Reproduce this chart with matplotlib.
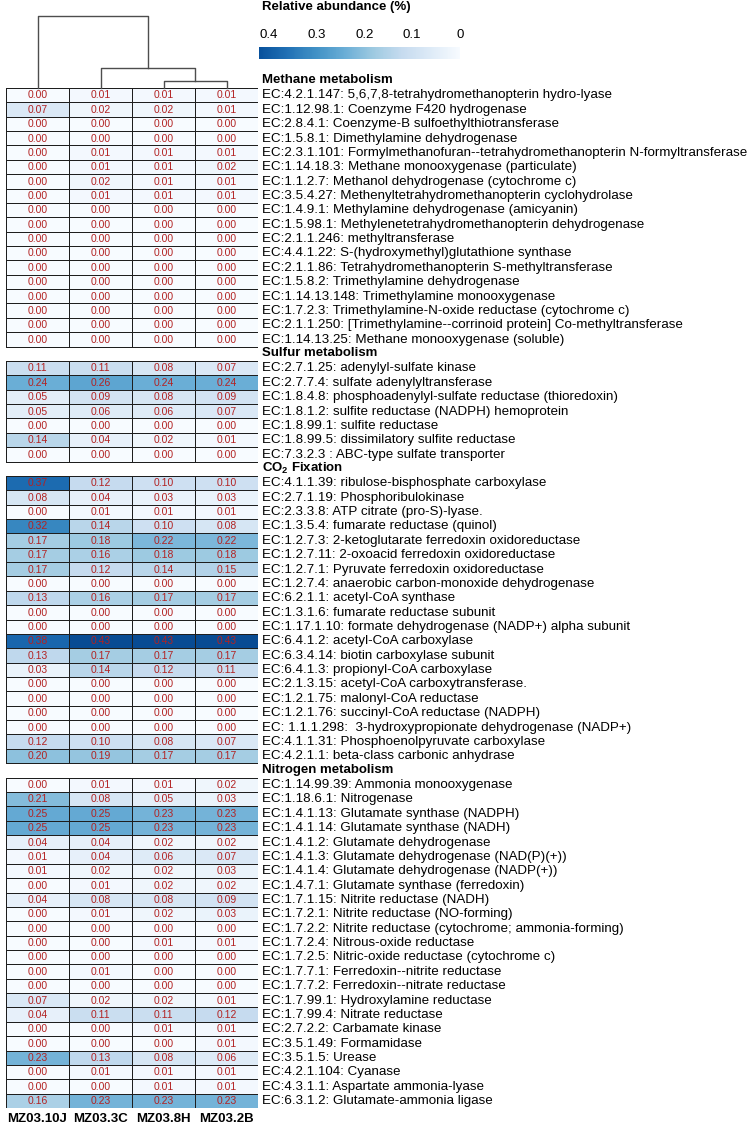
import numpy as np
import matplotlib
matplotlib.use("Agg")
import matplotlib.pyplot as plt

plt.rcParams['font.family'] = ['Liberation Sans', 'DejaVu Sans']
plt.rcParams['mathtext.fontset'] = 'custom'
plt.rcParams['mathtext.rm'] = 'Liberation Sans'
plt.rcParams['mathtext.bf'] = 'Liberation Sans:bold'

samples = ["MZ03.10J", "MZ03.3C", "MZ03.8H", "MZ03.2B"]

methane_labels = [
    "EC:4.2.1.147: 5,6,7,8-tetrahydromethanopterin hydro-lyase",
    "EC:1.12.98.1: Coenzyme F420 hydrogenase",
    "EC:2.8.4.1: Coenzyme-B sulfoethylthiotransferase",
    "EC:1.5.8.1: Dimethylamine dehydrogenase",
    "EC:2.3.1.101: Formylmethanofuran--tetrahydromethanopterin N-formyltransferase",
    "EC:1.14.18.3: Methane monooxygenase (particulate)",
    "EC:1.1.2.7: Methanol dehydrogenase (cytochrome c)",
    "EC:3.5.4.27: Methenyltetrahydromethanopterin cyclohydrolase",
    "EC:1.4.9.1: Methylamine dehydrogenase (amicyanin)",
    "EC:1.5.98.1: Methylenetetrahydromethanopterin dehydrogenase",
    "EC:2.1.1.246: methyltransferase",
    "EC:4.4.1.22: S-(hydroxymethyl)glutathione synthase",
    "EC:2.1.1.86: Tetrahydromethanopterin S-methyltransferase",
    "EC:1.5.8.2: Trimethylamine dehydrogenase",
    "EC:1.14.13.148: Trimethylamine monooxygenase",
    "EC:1.7.2.3: Trimethylamine-N-oxide reductase (cytochrome c)",
    "EC:2.1.1.250: [Trimethylamine--corrinoid protein] Co-methyltransferase",
    "EC:1.14.13.25: Methane monooxygenase (soluble)",
]
methane_values = [
    [0.00, 0.01, 0.01, 0.01],
    [0.07, 0.02, 0.02, 0.01],
    [0.00, 0.00, 0.00, 0.00],
    [0.00, 0.00, 0.00, 0.00],
    [0.00, 0.01, 0.01, 0.01],
    [0.00, 0.01, 0.01, 0.02],
    [0.00, 0.02, 0.01, 0.01],
    [0.00, 0.01, 0.01, 0.01],
    [0.00, 0.00, 0.00, 0.00],
    [0.00, 0.00, 0.00, 0.00],
    [0.00, 0.00, 0.00, 0.00],
    [0.00, 0.00, 0.00, 0.00],
    [0.00, 0.00, 0.00, 0.00],
    [0.00, 0.00, 0.00, 0.00],
    [0.00, 0.00, 0.00, 0.00],
    [0.00, 0.00, 0.00, 0.00],
    [0.00, 0.00, 0.00, 0.00],
    [0.00, 0.00, 0.00, 0.00],
]

sulfur_labels = [
    "EC:2.7.1.25: adenylyl-sulfate kinase",
    "EC:2.7.7.4: sulfate adenylyltransferase",
    "EC:1.8.4.8: phosphoadenylyl-sulfate reductase (thioredoxin)",
    "EC:1.8.1.2: sulfite reductase (NADPH) hemoprotein",
    "EC:1.8.99.1: sulfite reductase",
    "EC:1.8.99.5: dissimilatory sulfite reductase",
    "EC:7.3.2.3 : ABC-type sulfate transporter",
]
sulfur_values = [
    [0.11, 0.11, 0.08, 0.07],
    [0.24, 0.26, 0.24, 0.24],
    [0.05, 0.09, 0.08, 0.09],
    [0.05, 0.06, 0.06, 0.07],
    [0.00, 0.00, 0.00, 0.00],
    [0.14, 0.04, 0.02, 0.01],
    [0.00, 0.00, 0.00, 0.00],
]

co2_labels = [
    "EC:4.1.1.39: ribulose-bisphosphate carboxylase",
    "EC:2.7.1.19: Phosphoribulokinase",
    "EC:2.3.3.8: ATP citrate (pro-S)-lyase.",
    "EC:1.3.5.4: fumarate reductase (quinol)",
    "EC:1.2.7.3: 2-ketoglutarate ferredoxin oxidoreductase",
    "EC:1.2.7.11: 2-oxoacid ferredoxin oxidoreductase",
    "EC:1.2.7.1: Pyruvate ferredoxin oxidoreductase",
    "EC:1.2.7.4: anaerobic carbon-monoxide dehydrogenase",
    "EC:6.2.1.1: acetyl-CoA synthase",
    "EC:1.3.1.6: fumarate reductase subunit",
    "EC:1.17.1.10: formate dehydrogenase (NADP+) alpha subunit",
    "EC:6.4.1.2: acetyl-CoA carboxylase",
    "EC:6.3.4.14: biotin carboxylase subunit",
    "EC:6.4.1.3: propionyl-CoA carboxylase",
    "EC:2.1.3.15: acetyl-CoA carboxytransferase.",
    "EC:1.2.1.75: malonyl-CoA reductase",
    "EC:1.2.1.76: succinyl-CoA reductase (NADPH)",
    "EC: 1.1.1.298:  3-hydroxypropionate dehydrogenase (NADP+)",
    "EC:4.1.1.31: Phosphoenolpyruvate carboxylase",
    "EC:4.2.1.1: beta-class carbonic anhydrase",
]
co2_values = [
    [0.37, 0.12, 0.10, 0.10],
    [0.08, 0.04, 0.03, 0.03],
    [0.00, 0.01, 0.01, 0.01],
    [0.32, 0.14, 0.10, 0.08],
    [0.17, 0.18, 0.22, 0.22],
    [0.17, 0.16, 0.18, 0.18],
    [0.17, 0.12, 0.14, 0.15],
    [0.00, 0.00, 0.00, 0.00],
    [0.13, 0.16, 0.17, 0.17],
    [0.00, 0.00, 0.00, 0.00],
    [0.00, 0.00, 0.00, 0.00],
    [0.38, 0.43, 0.43, 0.43],
    [0.13, 0.17, 0.17, 0.17],
    [0.03, 0.14, 0.12, 0.11],
    [0.00, 0.00, 0.00, 0.00],
    [0.00, 0.00, 0.00, 0.00],
    [0.00, 0.00, 0.00, 0.00],
    [0.00, 0.00, 0.00, 0.00],
    [0.12, 0.10, 0.08, 0.07],
    [0.20, 0.19, 0.17, 0.17],
]

nitrogen_labels = [
    "EC:1.14.99.39: Ammonia monooxygenase",
    "EC:1.18.6.1: Nitrogenase",
    "EC:1.4.1.13: Glutamate synthase (NADPH)",
    "EC:1.4.1.14: Glutamate synthase (NADH)",
    "EC:1.4.1.2: Glutamate dehydrogenase",
    "EC:1.4.1.3: Glutamate dehydrogenase (NAD(P)(+))",
    "EC:1.4.1.4: Glutamate dehydrogenase (NADP(+))",
    "EC:1.4.7.1: Glutamate synthase (ferredoxin)",
    "EC:1.7.1.15: Nitrite reductase (NADH)",
    "EC:1.7.2.1: Nitrite reductase (NO-forming)",
    "EC:1.7.2.2: Nitrite reductase (cytochrome; ammonia-forming)",
    "EC:1.7.2.4: Nitrous-oxide reductase",
    "EC:1.7.2.5: Nitric-oxide reductase (cytochrome c)",
    "EC:1.7.7.1: Ferredoxin--nitrite reductase",
    "EC:1.7.7.2: Ferredoxin--nitrate reductase",
    "EC:1.7.99.1: Hydroxylamine reductase",
    "EC:1.7.99.4: Nitrate reductase",
    "EC:2.7.2.2: Carbamate kinase",
    "EC:3.5.1.49: Formamidase",
    "EC:3.5.1.5: Urease",
    "EC:4.2.1.104: Cyanase",
    "EC:4.3.1.1: Aspartate ammonia-lyase",
    "EC:6.3.1.2: Glutamate-ammonia ligase",
]
nitrogen_values = [
    [0.00, 0.01, 0.01, 0.02],
    [0.21, 0.08, 0.05, 0.03],
    [0.25, 0.25, 0.23, 0.23],
    [0.25, 0.25, 0.23, 0.23],
    [0.04, 0.04, 0.02, 0.02],
    [0.01, 0.04, 0.06, 0.07],
    [0.01, 0.02, 0.02, 0.03],
    [0.00, 0.01, 0.02, 0.02],
    [0.04, 0.08, 0.08, 0.09],
    [0.00, 0.01, 0.02, 0.03],
    [0.00, 0.00, 0.00, 0.00],
    [0.00, 0.00, 0.01, 0.01],
    [0.00, 0.00, 0.00, 0.00],
    [0.00, 0.01, 0.00, 0.00],
    [0.00, 0.00, 0.00, 0.00],
    [0.07, 0.02, 0.02, 0.01],
    [0.04, 0.11, 0.11, 0.12],
    [0.00, 0.00, 0.01, 0.01],
    [0.00, 0.00, 0.00, 0.01],
    [0.23, 0.13, 0.08, 0.06],
    [0.00, 0.01, 0.01, 0.01],
    [0.00, 0.00, 0.01, 0.01],
    [0.16, 0.23, 0.23, 0.23],
]

section_names = ["Methane metabolism", "Sulfur metabolism",
                 r"CO$_\mathbf{2}$ Fixation", "Nitrogen metabolism"]
section_labels = [methane_labels, sulfur_labels, co2_labels, nitrogen_labels]
section_values = [methane_values, sulfur_values, co2_values, nitrogen_values]

# dendrogram merge heights: (8H,2B), (3C,..), (10J,..)
merge_heights = [0.07, 0.20, 0.72]

n_total = sum(len(v) for v in section_values) + len(section_values) - 1

W, H = 751, 1130
fig = plt.figure(figsize=(W / 100, H / 100), dpi=100)

def frac(x0, y0, x1, y1):
    return [x0 / W, 1 - y1 / H, (x1 - x0) / W, (y1 - y0) / H]

cmap = plt.get_cmap('Blues')
norm = matplotlib.colors.Normalize(vmin=0, vmax=0.48)

ax = fig.add_axes(frac(6, 88, 258, 1108))
ax.set_xlim(0, 4)
ax.set_ylim(n_total, 0)
ax.axis('off')

start = 0
mesh = None
for name, labs, vals in zip(section_names, section_labels, section_values):
    vals = np.array(vals)
    nr = len(vals)
    xe = np.arange(5)
    ye = np.arange(start, start + nr + 1)
    mesh = ax.pcolormesh(xe, ye, vals, cmap=cmap, norm=norm,
                         edgecolors='#1e1e1e', linewidth=0.7)
    ax.text(4.065, start - 0.55, name, ha='left', va='center', fontsize=9.5,
            fontweight='bold', clip_on=False)
    for r in range(nr):
        y = start + r + 0.52
        for c in range(4):
            ax.text(c + 0.5, y, f"{vals[r, c]:.2f}", ha='center', va='center',
                    fontsize=7.5, color='#b22222')
        ax.text(4.065, y, labs[r], ha='left', va='center', fontsize=9.6,
                clip_on=False)
    start += nr + 1

for c, s in enumerate(samples):
    ax.text(c + 0.5, n_total + 0.78, s, ha='center', va='center', fontsize=9.5,
            fontweight='bold', clip_on=False)

# dendrogram
dax = fig.add_axes(frac(6, 16, 258, 88))
dax.set_xlim(0, 4)
dax.set_ylim(0, merge_heights[2])
dax.axis('off')
lc = '#4d4d4d'
h1, h2, h3 = merge_heights
dax.plot([2.5, 2.5, 3.5, 3.5], [0, h1, h1, 0], color=lc, lw=1, clip_on=False)
dax.plot([1.5, 1.5, 3.0, 3.0], [0, h2, h2, h1], color=lc, lw=1, clip_on=False)
dax.plot([0.5, 0.5, 2.25, 2.25], [0, h3, h3, h2], color=lc, lw=1, clip_on=False)

# colorbar
cax = fig.add_axes(frac(259, 46.5, 460, 58.5))
cb = fig.colorbar(mesh, cax=cax, orientation='horizontal',
                  boundaries=np.linspace(0, 0.42, 200))
cax.invert_xaxis()
cb.outline.set_visible(False)
cb.set_ticks([0.4, 0.3, 0.2, 0.1, 0])
cb.set_ticklabels(['0.4', '0.3', '0.2', '0.1', '0'])
cax.xaxis.set_ticks_position('top')
cax.tick_params(length=0, labelsize=9.5, pad=4)
fig.text(262 / W, 1 - 7 / H, "Relative abundance (%)", fontsize=9.5,
         fontweight='bold', ha='left', va='center')

fig.savefig('out.png', dpi=100)
